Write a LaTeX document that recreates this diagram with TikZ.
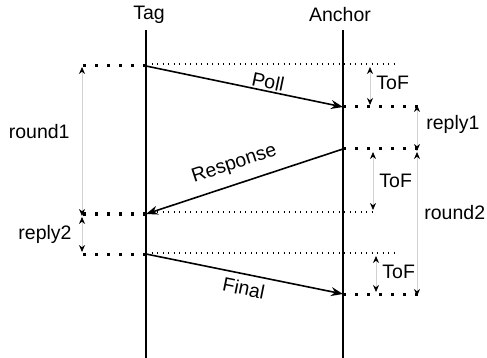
\documentclass[tikz,border=0pt]{standalone}
\usepackage{fontspec}
\setmainfont{Liberation Sans}
\usetikzlibrary{arrows.meta}
\begin{document}
\begin{tikzpicture}[x=1pt,y=-1pt,
  every node/.style={font=\fontsize{19.5}{23}\selectfont, inner sep=0pt},
  life/.style={line width=1.6pt},
  msg/.style={line width=1.6pt, -{Stealth[length=12pt,width=9pt]}},
  bigdots/.style={line width=3pt, dash pattern=on 3pt off 9pt},
  finedots/.style={line width=1.2pt, dash pattern=on 1.2pt off 4.3pt},
  span/.style={draw=black!18, line width=0.8pt, {Stealth[length=7pt,width=6pt,black]}-{Stealth[length=7pt,width=6pt,black]}}
]
\useasboundingbox (0,0) rectangle (487,358);

% lifelines
\node (tag) at (149,15) {Tag};
\node (anc) at (340,15) {Anchor};
\coordinate (tagT) at (146,30);  \coordinate (tagB) at (146,358);
\coordinate (ancT) at (343,30);  \coordinate (ancB) at (343,358);
\draw[life] (tagT) -- (tagB);
\draw[life] (ancT) -- (ancB);

% event points on the lifelines
\coordinate (pollS) at (146,66);
\coordinate (pollR) at (343,107);
\coordinate (respS) at (343,149);
\coordinate (respR) at (146,214);
\coordinate (finS)  at (146,254);
\coordinate (finR)  at (343,294);

% messages
\draw[msg] (pollS) -- (pollR) node[pos=0.61, above=1.5pt, sloped] (poll) {Poll};
\draw[msg] (respS) -- (respR) node[pos=0.52, above=10pt, sloped] (resp) {Response};
\draw[msg] (finS) -- (finR) node[pos=0.51, below=6pt, sloped] (fin) {Final};

% time marks on the Tag side
\coordinate (tL1) at (82,66);
\coordinate (tL2) at (82,214);
\coordinate (tL3) at (82,254);
\draw[bigdots] (pollS) -- (tL1);
\draw[bigdots] (respR) -- (tL2);
\draw[bigdots] (finS) -- (tL3);

% time marks on the Anchor side
\coordinate (aR1) at (418,107);
\coordinate (aR2) at (418,149);
\coordinate (aR3) at (418,294);
\draw[bigdots] (pollR) -- (aR1);
\draw[bigdots] (respS) -- (aR2);
\draw[bigdots] (finR) -- (aR3);

% projected send times
\coordinate (p1) at (398,64);
\coordinate (p2) at (376,212);
\coordinate (p3) at (398,253);
\draw[finedots] (146,64) -- (p1);
\draw[finedots] (146,212) -- (p2);
\draw[finedots] (146,253) -- (p3);

% durations
\draw[span] (82,216) -- (82,67) node[pos=0.57, left=12pt] (r1) {round1};
\draw[span] (82,252) -- (82,217) node[midway, left=10pt] (r2) {reply2};
\draw[span] (417,105) -- (417,151) node[pos=0.43, right=9pt] (rp1) {reply1};
\draw[span] (417,296) -- (417,152) node[pos=0.58, right=7pt] (rd2) {round2};
\draw[span] (370,105) -- (370,67) node[pos=0.58, right=6pt] (tof1) {ToF};
\draw[span] (373,210) -- (373,152) node[midway, right=6pt] (tof2) {ToF};
\draw[span] (376,292) -- (376,256) node[pos=0.55, right=6pt] (tof3) {ToF};
\end{tikzpicture}
\end{document}
